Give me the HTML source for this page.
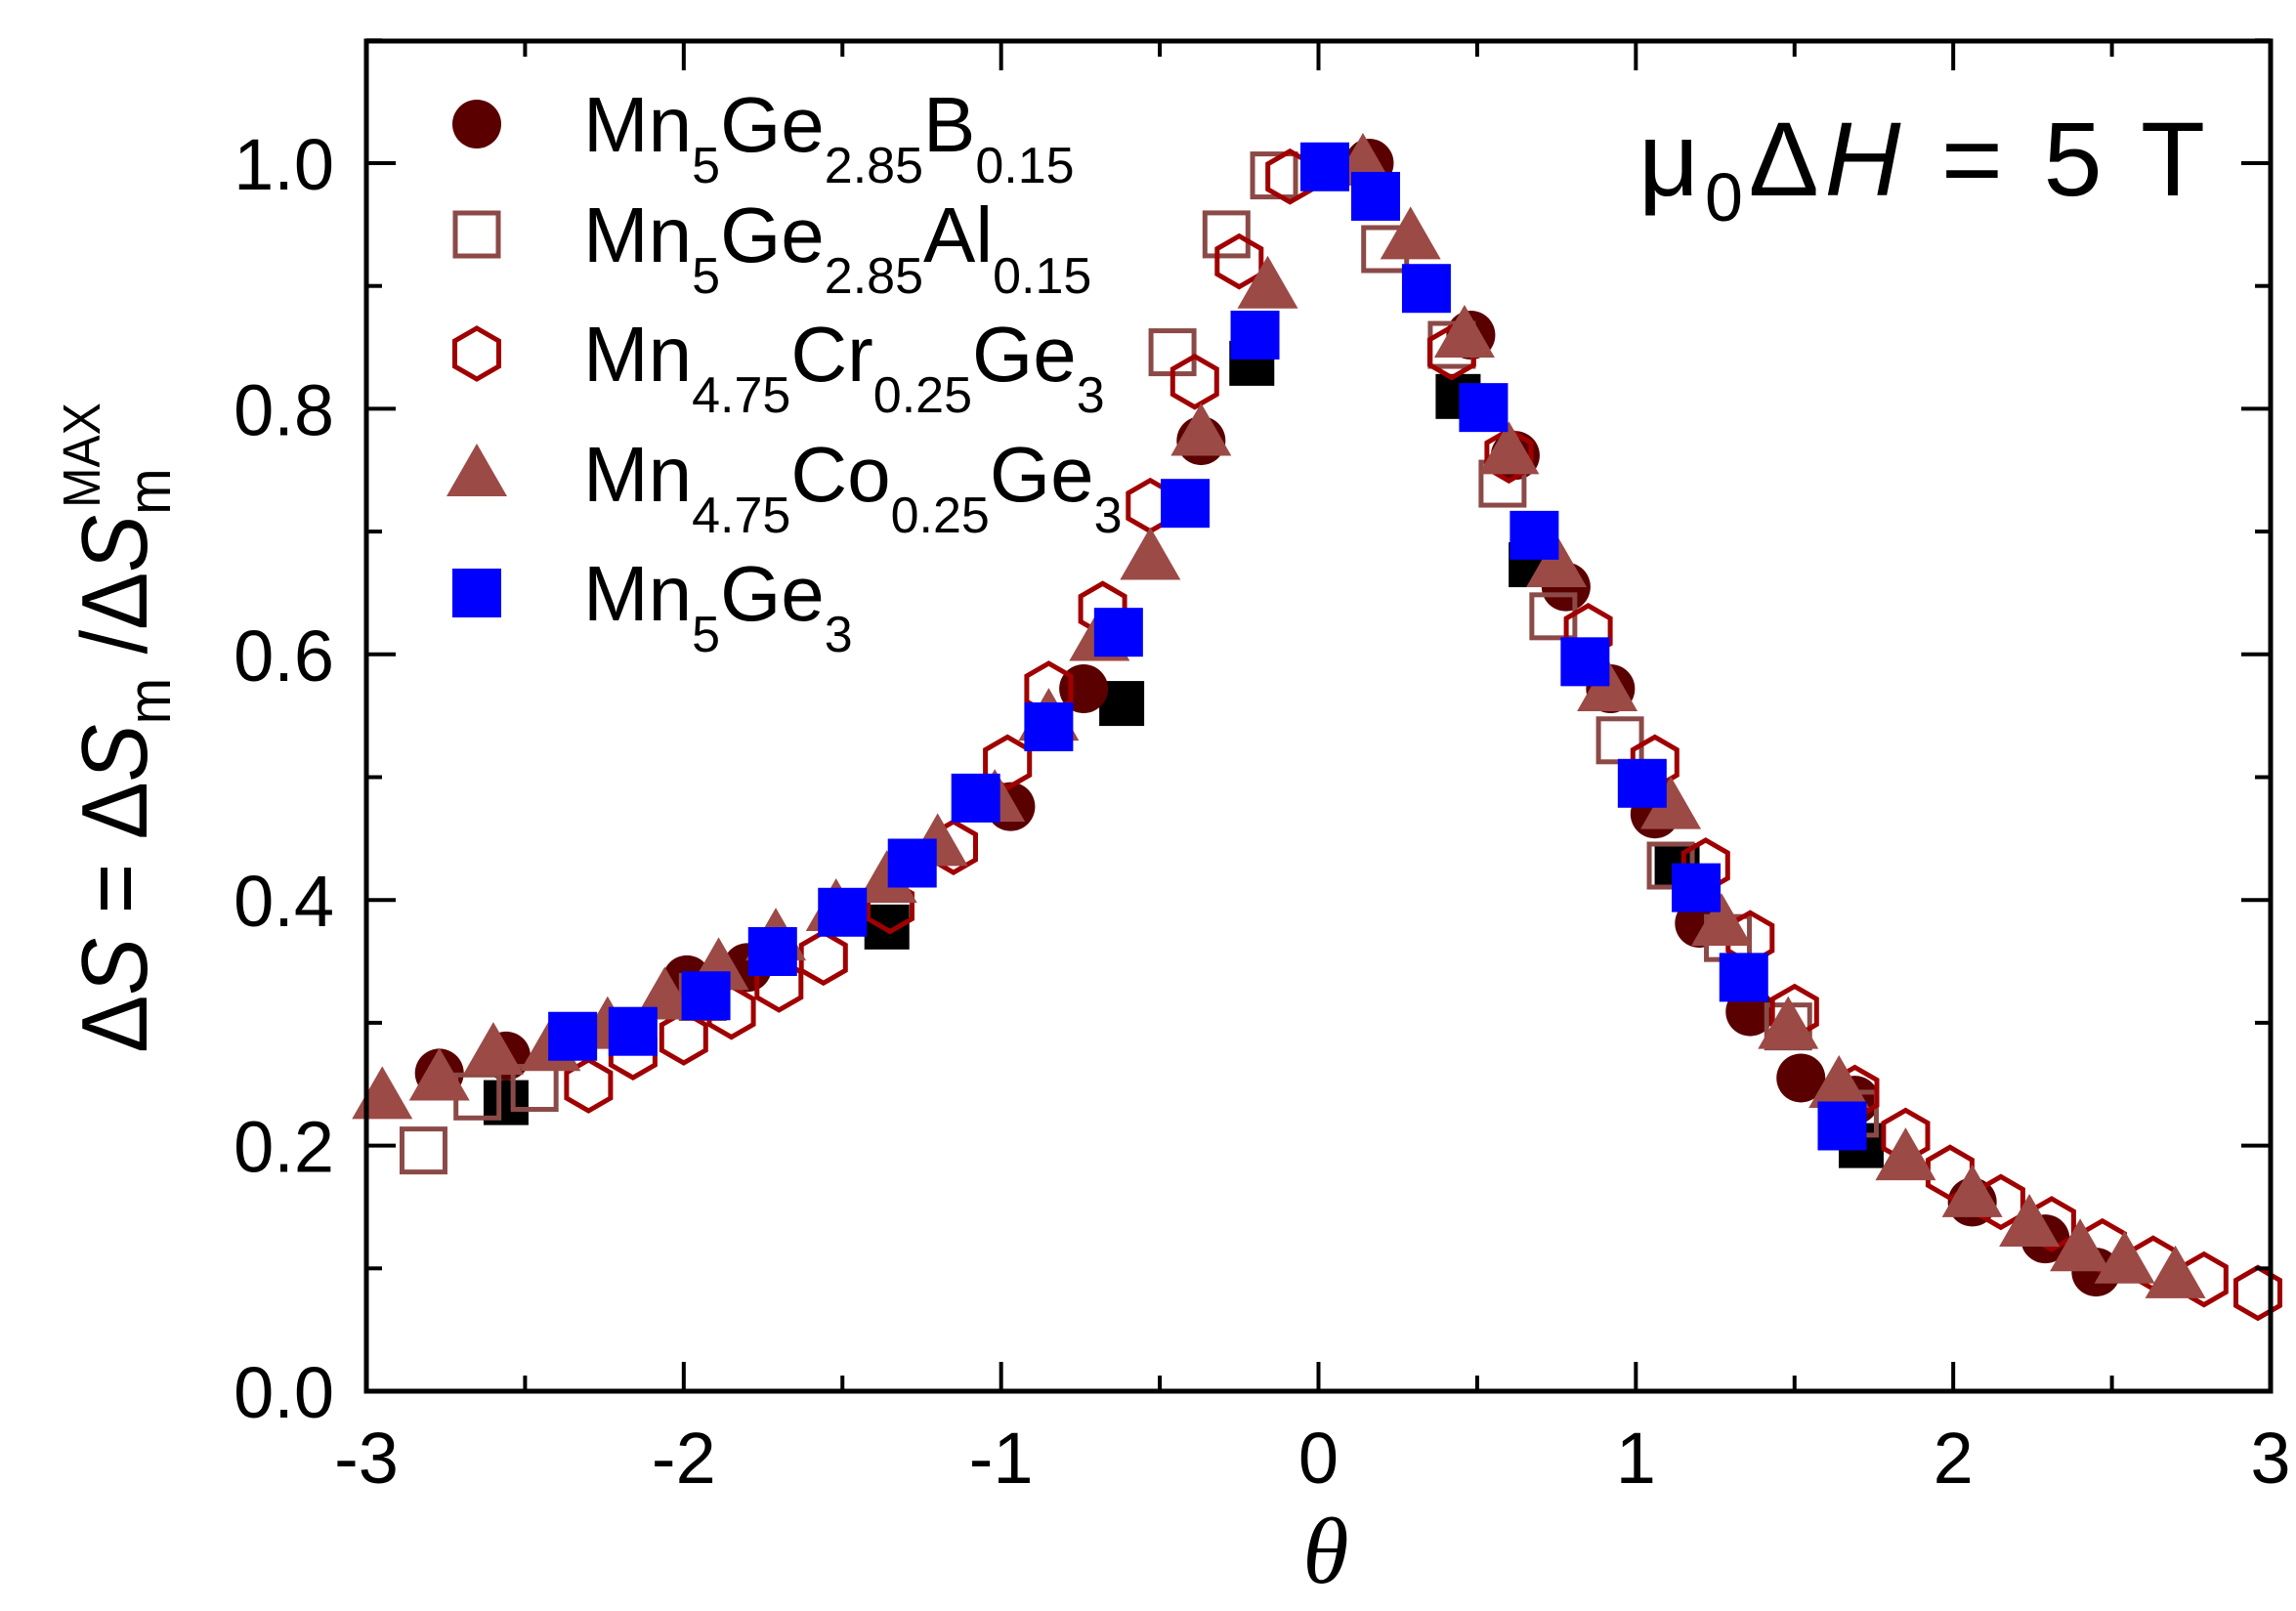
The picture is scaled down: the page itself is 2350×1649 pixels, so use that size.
<!DOCTYPE html>
<html><head><meta charset="utf-8"><style>
html,body{margin:0;padding:0;background:#fff;}
svg{display:block;}
text{font-family:"Liberation Sans",sans-serif;}
</style></head><body>
<svg id="chart" width="2350" height="1649" viewBox="0 0 2350 1649" xmlns="http://www.w3.org/2000/svg">
<rect width="2350" height="1649" fill="#fff"/>
<g id="marks"></g>
<g id="axes"></g>
<g id="legend"></g>
<text x="1677" y="200" font-size="108" textLength="580" lengthAdjust="spacing">μ<tspan font-size="70" dy="26">0</tspan><tspan dy="-26">Δ</tspan><tspan font-style="italic">H</tspan> = 5 T</text>
<text x="1357" y="1620" font-size="96" font-style="italic" text-anchor="middle" style="font-family:'Liberation Serif',serif">θ</text>
<text transform="translate(150,745) rotate(-90) scale(0.92,1)" font-size="96" text-anchor="middle">Δ<tspan font-style="italic">S</tspan> = Δ<tspan font-style="italic">S</tspan><tspan font-size="62" dy="24">m</tspan><tspan dy="-24"> /Δ</tspan><tspan font-style="italic">S</tspan><tspan font-size="62" dy="24">m</tspan><tspan font-size="54" dx="-44" dy="-72">MAX</tspan></text>
</svg>
<script>
const xTicks=[-3,-2,-1,0,1,2,3];
const yTicks=[0.0,0.2,0.4,0.6,0.8,1.0];
const yTickLabels=["0.0","0.2","0.4","0.6","0.8","1.0"];
const blackX=[-2.56,-1.36,-0.62,-0.21,0.44,0.67,1.13,1.71];
const blackY=[0.235,0.378,0.56,0.837,0.81,0.673,0.428,0.2];
const boronX=[-2.77,-2.56,-1.99,-1.80,-0.97,-0.74,-0.37,0.16,0.48,0.62,0.78,0.92,1.06,1.20,1.36,1.52,1.69,2.06,2.29,2.45];
const boronY=[0.259,0.273,0.335,0.345,0.476,0.572,0.774,1.0,0.86,0.762,0.655,0.572,0.47,0.381,0.309,0.255,0.237,0.154,0.124,0.097];
const alX=[-2.82,-2.65,-2.47,-1.94,-0.46,-0.29,-0.14,0.21,0.42,0.58,0.74,0.95,1.11,1.29,1.48,1.69];
const alY=[0.196,0.24,0.247,0.321,0.846,0.942,0.99,0.93,0.852,0.739,0.631,0.53,0.428,0.369,0.297,0.226];
const crX=[-2.30,-2.16,-2.00,-1.85,-1.70,-1.56,-1.35,-1.15,-0.98,-0.85,-0.68,-0.53,-0.39,-0.25,-0.09,0.42,0.60,0.85,1.06,1.22,1.36,1.50,1.69,1.85,1.99,2.15,2.31,2.47,2.63,2.79,2.96];
const crY=[0.249,0.276,0.288,0.309,0.331,0.353,0.395,0.443,0.512,0.572,0.637,0.721,0.822,0.920,0.989,0.846,0.762,0.619,0.512,0.428,0.369,0.309,0.243,0.208,0.178,0.154,0.136,0.118,0.104,0.091,0.080];
const coX=[-2.95,-2.77,-2.60,-2.42,-2.24,-2.06,-1.89,-1.71,-1.52,-1.36,-1.20,-1.02,-0.85,-0.69,-0.53,-0.37,-0.16,0.14,0.29,0.46,0.60,0.75,0.91,1.11,1.27,1.48,1.64,1.85,2.06,2.24,2.40,2.54,2.70];
const coY=[0.24,0.255,0.276,0.279,0.297,0.321,0.345,0.369,0.393,0.416,0.446,0.482,0.548,0.613,0.679,0.780,0.900,1.0,0.94,0.86,0.765,0.673,0.572,0.476,0.381,0.297,0.249,0.19,0.16,0.136,0.116,0.106,0.094];
const mnX=[-2.35,-2.16,-1.93,-1.72,-1.50,-1.28,-1.08,-0.85,-0.63,-0.42,-0.20,0.02,0.18,0.34,0.52,0.68,0.84,1.02,1.19,1.34,1.65];
const mnY=[0.289,0.293,0.322,0.358,0.390,0.430,0.483,0.541,0.618,0.723,0.860,0.997,0.973,0.898,0.801,0.697,0.594,0.495,0.410,0.337,0.216];

const X0=375,X1=2324,Y0=1424,YTOP=42;
const xs=v=>X0+(v+3)/6*(X1-X0);
const ys=v=>Y0-v*1257;
const NS="http://www.w3.org/2000/svg";
function mk(tag,attrs,parent){const e=document.createElementNS(NS,tag);for(const k in attrs)e.setAttribute(k,attrs[k]);parent.appendChild(e);return e;}
const marks=document.getElementById('marks'),axes=document.getElementById('axes'),legend=document.getElementById('legend');

function drawShape(kind,cx,cy,parent){
  let e;
  if(kind==='black'){e=mk('rect',{x:cx-23,y:cy-23,width:46,height:46,fill:'#000'},parent);}
  else if(kind==='boron'){e=mk('circle',{cx:cx,cy:cy,r:25,fill:'#5a0000'},parent);}
  else if(kind==='al'){e=mk('rect',{x:cx-22,y:cy-22,width:44,height:44,fill:'none',stroke:'#8b4a47','stroke-width':5},parent);}
  else if(kind==='cr'){let p=[];for(let i=0;i<6;i++){const a=Math.PI/180*(60*i+30);p.push((cx+26*Math.cos(a)).toFixed(1)+','+(cy+26*Math.sin(a)).toFixed(1));}
    e=mk('polygon',{points:p.join(' '),fill:'none',stroke:'#a00000','stroke-width':5},parent);}
  else if(kind==='co'){e=mk('polygon',{points:`${cx},${cy-31} ${cx+31},${cy+23} ${cx-31},${cy+23}`,fill:'#9b4a46'},parent);}
  else {e=mk('rect',{x:cx-25,y:cy-25,width:50,height:50,fill:'#0000ff'},parent);}
  return e;
}
const series=[['black',blackX,blackY],['boron',boronX,boronY],['al',alX,alY],['cr',crX,crY],['co',coX,coY],['mn5ge3',mnX,mnY]];
series.forEach(([k,X,Y])=>{
  const g=mk('g',{},marks);
  
  
  X.forEach((x,i)=>{const e=drawShape(k,xs(x),ys(Y[i]),g);
    
    });
});

const frame=mk('rect',{x:X0,y:YTOP,width:X1-X0,height:Y0-YTOP,fill:'none',stroke:'#000','stroke-width':5},axes);


for(let v=-3;v<=3.001;v+=0.5){
  const major=Math.abs(v-Math.round(v))<1e-6,L=major?30:16,x=xs(v);
  mk('line',{x1:x,y1:Y0,x2:x,y2:Y0-L,stroke:'#000','stroke-width':4},axes);
  mk('line',{x1:x,y1:YTOP,x2:x,y2:YTOP+L,stroke:'#000','stroke-width':4},axes);
}
for(let i=0;i<=11;i++){
  const v=i*0.1,major=i%2===0,L=major?30:16,y=ys(v);
  mk('line',{x1:X0,y1:y,x2:X0+L,y2:y,stroke:'#000','stroke-width':4},axes);
  mk('line',{x1:X1,y1:y,x2:X1-L,y2:y,stroke:'#000','stroke-width':4},axes);
}
xTicks.forEach(v=>{const t=mk('text',{x:xs(v),y:1518,'font-size':74,'text-anchor':'middle'},axes);t.textContent=String(v);
  
  });
yTicks.forEach((v,i)=>{const t=mk('text',{x:342,y:ys(v)+27,'font-size':74,'text-anchor':'end'},axes);t.textContent=yTickLabels[i];
  
  });

const legItems=[['boron',127,[['Mn',0],['5',1],['Ge',0],['2.85',1],['B',0],['0.15',1]]],
 ['al',240,[['Mn',0],['5',1],['Ge',0],['2.85',1],['Al',0],['0.15',1]]],
 ['cr',362,[['Mn',0],['4.75',1],['Cr',0],['0.25',1],['Ge',0],['3',1]]],
 ['co',485,[['Mn',0],['4.75',1],['Co',0],['0.25',1],['Ge',0],['3',1]]],
 ['mn5ge3',607,[['Mn',0],['5',1],['Ge',0],['3',1]]]];
legItems.forEach(([k,y,parts])=>{
  const g=mk('g',{},legend);
  
  
  drawShape(k,488,y,g);
  const t=mk('text',{x:597,y:y+28,'font-size':80},g);
  let down=false;
  parts.forEach(([s,sub])=>{
    const ts=mk('tspan',sub?{'font-size':52,dy:down?0:32}:{dy:down?-32:0},t);
    ts.textContent=s; down=!!sub;
  });
});
</script>
</body></html>
